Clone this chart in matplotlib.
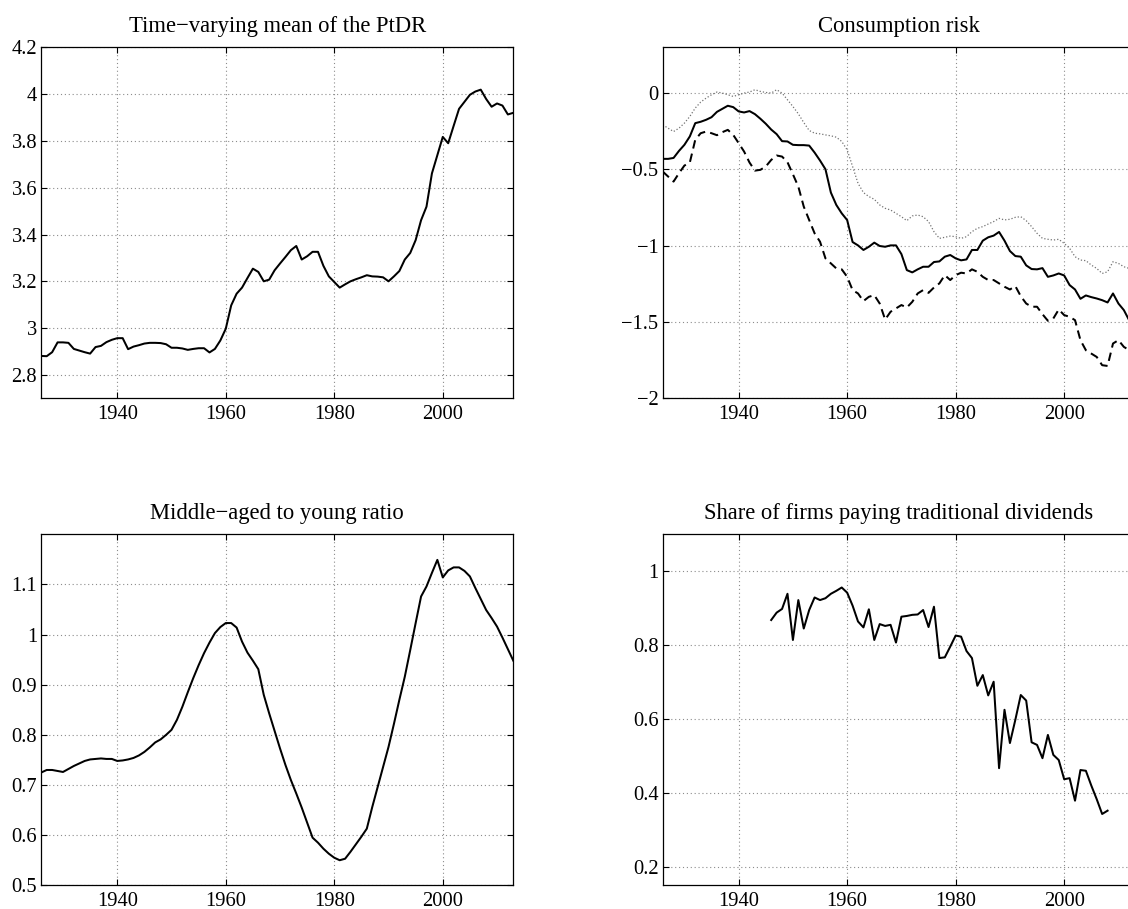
import matplotlib
matplotlib.use("Agg")
import matplotlib.pyplot as plt
from matplotlib.ticker import FuncFormatter, FixedLocator

# ---------------- data ----------------
years = list(range(1926, 2014))

ptdr_mean = [2.881, 2.880, 2.897, 2.939, 2.939, 2.937, 2.911, 2.904, 2.897, 2.891,
             2.919, 2.924, 2.940, 2.950, 2.957, 2.957, 2.910, 2.921, 2.927, 2.934,
             2.937, 2.937, 2.936, 2.931, 2.916, 2.916, 2.913, 2.907, 2.911, 2.914,
             2.914, 2.896, 2.911, 2.947, 2.997, 3.097, 3.147, 3.173, 3.214, 3.254,
             3.240, 3.200, 3.207, 3.247, 3.276, 3.304, 3.333, 3.351, 3.293, 3.307,
             3.326, 3.326, 3.266, 3.221, 3.197, 3.173, 3.187, 3.200, 3.209, 3.217,
             3.226, 3.221, 3.220, 3.217, 3.200, 3.221, 3.244, 3.293, 3.321, 3.376,
             3.461, 3.519, 3.661, 3.739, 3.817, 3.790, 3.864, 3.937, 3.967, 3.997,
             4.011, 4.019, 3.979, 3.946, 3.960, 3.951, 3.913, 3.920]

risk_solid = [-0.431, -0.431, -0.425, -0.379, -0.339, -0.284, -0.197, -0.188, -0.175, -0.158,
              -0.123, -0.103, -0.083, -0.092, -0.120, -0.127, -0.118, -0.138, -0.168, -0.201,
              -0.239, -0.269, -0.315, -0.317, -0.339, -0.341, -0.341, -0.344, -0.390, -0.442,
              -0.499, -0.652, -0.733, -0.788, -0.832, -0.976, -0.998, -1.028, -1.007, -0.980,
              -1.002, -1.007, -0.998, -0.998, -1.055, -1.160, -1.175, -1.155, -1.138, -1.138,
              -1.107, -1.103, -1.072, -1.061, -1.083, -1.096, -1.090, -1.028, -1.028, -0.967,
              -0.945, -0.934, -0.910, -0.967, -1.035, -1.068, -1.072, -1.129, -1.153, -1.155,
              -1.147, -1.204, -1.195, -1.182, -1.195, -1.258, -1.287, -1.348, -1.326, -1.337,
              -1.346, -1.357, -1.372, -1.313, -1.379, -1.422, -1.490, -1.520]

risk_dashed = [-0.514, -0.547, -0.580, -0.525, -0.475, -0.455, -0.306, -0.263, -0.252, -0.263,
               -0.276, -0.256, -0.241, -0.274, -0.328, -0.383, -0.455, -0.508, -0.503, -0.481,
               -0.438, -0.409, -0.416, -0.453, -0.532, -0.613, -0.744, -0.832, -0.919, -0.974,
               -1.083, -1.116, -1.149, -1.155, -1.204, -1.291, -1.313, -1.363, -1.335, -1.324,
               -1.379, -1.484, -1.433, -1.411, -1.389, -1.405, -1.368, -1.313, -1.291, -1.309,
               -1.274, -1.247, -1.193, -1.225, -1.193, -1.177, -1.182, -1.155, -1.171, -1.204,
               -1.225, -1.225, -1.247, -1.269, -1.287, -1.265, -1.331, -1.379, -1.400, -1.400,
               -1.449, -1.492, -1.477, -1.418, -1.455, -1.466, -1.488, -1.619, -1.685, -1.707,
               -1.729, -1.783, -1.788, -1.641, -1.619, -1.663, -1.685, -1.700]

risk_dotted = [-0.208, -0.230, -0.252, -0.230, -0.197, -0.153, -0.098, -0.059, -0.033, -0.011,
               0.007, 0.000, -0.011, -0.022, -0.011, 0.000, 0.007, 0.022, 0.011, 0.004,
               0.000, 0.022, 0.000, -0.044, -0.088, -0.136, -0.193, -0.245, -0.263, -0.267,
               -0.274, -0.280, -0.289, -0.317, -0.372, -0.481, -0.591, -0.652, -0.678, -0.696,
               -0.733, -0.755, -0.766, -0.788, -0.810, -0.836, -0.805, -0.799, -0.810, -0.842,
               -0.908, -0.952, -0.945, -0.937, -0.941, -0.952, -0.941, -0.908, -0.886, -0.875,
               -0.858, -0.842, -0.821, -0.831, -0.827, -0.814, -0.810, -0.836, -0.875, -0.919,
               -0.952, -0.958, -0.963, -0.958, -0.985, -1.017, -1.072, -1.094, -1.098, -1.127,
               -1.149, -1.182, -1.171, -1.105, -1.116, -1.138, -1.149, -1.160]

my_ratio = [0.725, 0.730, 0.730, 0.728, 0.726, 0.732, 0.738, 0.743, 0.748, 0.751,
            0.752, 0.753, 0.752, 0.752, 0.748, 0.749, 0.751, 0.754, 0.759, 0.766,
            0.775, 0.785, 0.791, 0.800, 0.810, 0.830, 0.856, 0.885, 0.913, 0.939,
            0.963, 0.984, 1.003, 1.015, 1.023, 1.023, 1.014, 0.986, 0.964, 0.948,
            0.931, 0.880, 0.843, 0.808, 0.773, 0.740, 0.710, 0.683, 0.655, 0.625,
            0.595, 0.585, 0.573, 0.563, 0.555, 0.550, 0.553, 0.567, 0.582, 0.597,
            0.613, 0.656, 0.696, 0.736, 0.776, 0.822, 0.870, 0.916, 0.969, 1.023,
            1.076, 1.096, 1.123, 1.149, 1.114, 1.128, 1.134, 1.134, 1.127, 1.116,
            1.093, 1.071, 1.049, 1.033, 1.016, 0.994, 0.971, 0.948]

div_years = list(range(1946, 2009))
div_share = [0.868, 0.888, 0.898, 0.939, 0.814, 0.922, 0.845, 0.895, 0.929, 0.922,
             0.927, 0.939, 0.947, 0.956, 0.942, 0.907, 0.864, 0.848, 0.897, 0.814,
             0.857, 0.852, 0.855, 0.807, 0.877, 0.879, 0.882, 0.883, 0.895, 0.849,
             0.904, 0.765, 0.767, 0.796, 0.826, 0.823, 0.784, 0.765, 0.690, 0.719,
             0.664, 0.701, 0.467, 0.625, 0.535, 0.598, 0.665, 0.650, 0.537, 0.530,
             0.494, 0.557, 0.503, 0.489, 0.437, 0.440, 0.379, 0.462, 0.460, 0.420,
             0.383, 0.343, 0.352]

titles = ["Time\u2212varying mean of the PtDR", "Consumption risk",
          "Middle\u2212aged to young ratio", "Share of firms paying traditional dividends"]
x_ticks = [1940, 1960, 1980, 2000]
y_ticks = [[2.8, 3.0, 3.2, 3.4, 3.6, 3.8, 4.0, 4.2],
           [-2.0, -1.5, -1.0, -0.5, 0.0],
           [0.5, 0.6, 0.7, 0.8, 0.9, 1.0, 1.1],
           [0.2, 0.4, 0.6, 0.8, 1.0]]
y_lims = [(2.7, 4.2), (-2.0, 0.3), (0.5, 1.2), (0.15, 1.1)]

# ---------------- figure ----------------
W, H = 1128, 909
fig = plt.figure(figsize=(W / 100, H / 100), dpi=100)
plt.rcParams['font.family'] = ['Liberation Serif', 'DejaVu Serif']

aw, ah = 472, 351
positions = [(41.3, 47.3), (662.7, 47.3), (41.3, 534.3), (662.7, 534.3)]
axes = []
for (lx, ty) in positions:
    ax = fig.add_axes([lx / W, 1 - (ty + ah) / H, aw / W, ah / H])
    axes.append(ax)

fmt = FuncFormatter(lambda v, p: f"{v:g}".replace('-', '\u2212'))

lw = 1.45
axes[0].plot(years, ptdr_mean, color='black', lw=lw)
axes[1].plot(years, risk_dotted, color='0.45', lw=0.9, linestyle=(0, (1, 1.6)))
axes[1].plot(years, risk_solid, color='black', lw=lw)
axes[1].plot(years, risk_dashed, color='black', lw=lw, linestyle=(0, (4.2, 2.6)))
axes[2].plot(years, my_ratio, color='black', lw=lw)
axes[3].plot(div_years, div_share, color='black', lw=lw)

for i, ax in enumerate(axes):
    ax.set_xlim(1926, 2013)
    ax.set_ylim(*y_lims[i])
    ax.xaxis.set_major_locator(FixedLocator(x_ticks))
    ax.yaxis.set_major_locator(FixedLocator(y_ticks[i]))
    ax.yaxis.set_major_formatter(fmt)
    ax.tick_params(direction='in', length=4.5, width=0.8, top=True, right=True,
                   labelsize=14.8, colors='black')
    ax.tick_params(axis='x', pad=4.8)
    ax.tick_params(axis='y', pad=3)
    ax.grid(True, color='0.55', linestyle=(0, (1, 2.5)), linewidth=0.8)
    for s in ax.spines.values():
        s.set_linewidth(0.9)
        s.set_color('black')
    ax.set_title(titles[i], fontsize=16.3, pad=10.8)

fig.savefig("out.png", dpi=100)
